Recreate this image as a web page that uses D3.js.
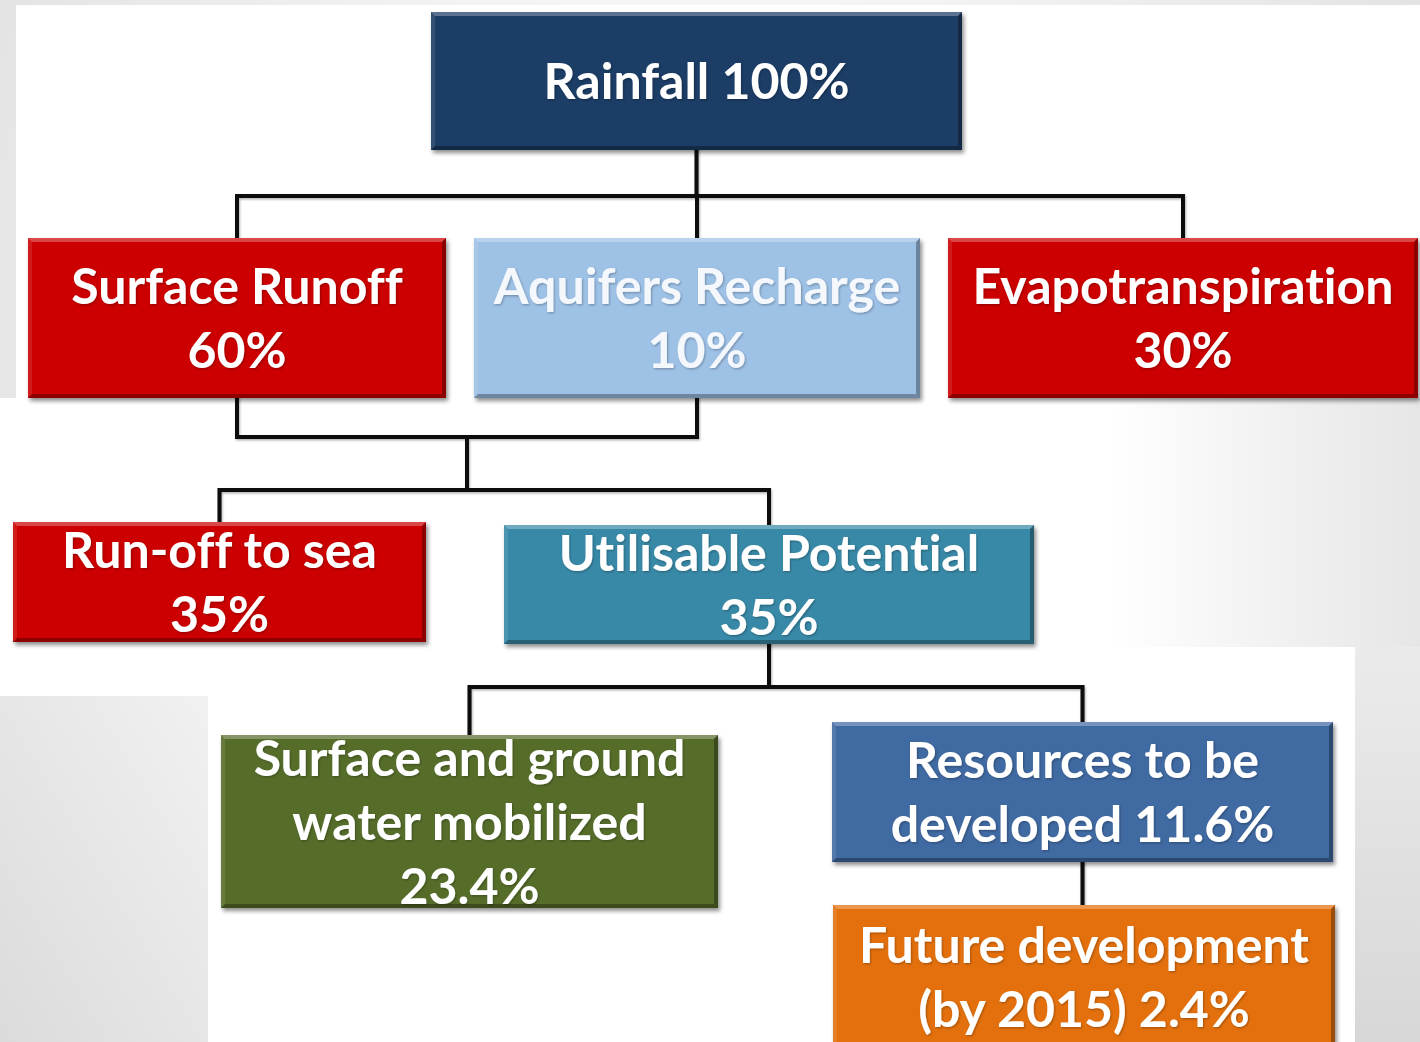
<!DOCTYPE html>
<html>
<head>
<meta charset="utf-8">
<script src="https://cdn.jsdelivr.net/npm/d3@7"></script>
<style>
  html, body { margin: 0; padding: 0; background: #ffffff; }
  svg { display: block; }
  text { font-variant-ligatures: none; font-feature-settings: "liga" 0, "clig" 0; }
</style>
</head>
<body>
<svg id="chart" width="1420" height="1042"></svg>
<script>
// ---- Water balance data: each node's share of total rainfall ----
const nodeIds    = ["rain", "surface", "aquifer", "evap", "sea", "util", "mobil", "resources", "future"];
const nodeShares = [100, 60, 10, 30, 35, 35, 23.4, 11.6, 2.4];
// label templates ("|" = line break, "{v}" = share)
const nodeLabels = [
  "Rainfall {v}%",
  "Surface Runoff|{v}%",
  "Aquifers Recharge|{v}%",
  "Evapotranspiration|{v}%",
  "Run-off to sea|{v}%",
  "Utilisable Potential|{v}%",
  "Surface and ground|water mobilized|{v}%",
  "Resources to be|developed {v}%",
  "Future development|(by 2015) {v}%"
];
// flow links: parents -> children
const flowParents  = [["rain"], ["surface", "aquifer"], ["util"], ["resources"]];
const flowChildren = [["surface", "aquifer", "evap"], ["sea", "util"], ["mobil", "resources"], ["future"]];

// ---- Layout and styles ----
const boxLayout = {
  rain:      { x: 431, y: 12,  w: 531, h: 138 },
  surface:   { x: 28,  y: 238, w: 418, h: 160 },
  aquifer:   { x: 474, y: 238, w: 446, h: 160 },
  evap:      { x: 948, y: 238, w: 470, h: 160 },
  sea:       { x: 13,  y: 522, w: 413, h: 120 },
  util:      { x: 504, y: 525, w: 530, h: 119 },
  mobil:     { x: 221, y: 735, w: 497, h: 173 },
  resources: { x: 832, y: 722, w: 501, h: 140 },
  future:    { x: 833, y: 905, w: 502, h: 143 }
};
const boxFill = {
  rain: "#1f3c66", surface: "#cc0000", aquifer: "#9ec1e6", evap: "#cc0000",
  sea: "#cc0000", util: "#3889a7", mobil: "#576d2c", resources: "#3f6aa2", future: "#e3700f"
};
// junction levels for each flow (merge level for several parents, bus level for children)
const flowLevels = [{ merge: 196, bus: 196 }, { merge: 437, bus: 490 }, { merge: 687, bus: 687 }, { merge: 884, bus: 884 }];

const W = 1420, H = 1042;
const svg = d3.select("#chart");
const defs = svg.append("defs");

// background gradients
const bg = defs.append("radialGradient").attr("id", "bgGrad")
  .attr("gradientUnits", "userSpaceOnUse").attr("cx", 700).attr("cy", 320).attr("r", 1050);
bg.append("stop").attr("offset", 0).attr("stop-color", "#ffffff");
bg.append("stop").attr("offset", 0.35).attr("stop-color", "#f4f4f4");
bg.append("stop").attr("offset", 1).attr("stop-color", "#d8d8d8");

const midGrad = defs.append("linearGradient").attr("id", "midGrad")
  .attr("x1", 0).attr("x2", 1).attr("y1", 0).attr("y2", 0);
midGrad.append("stop").attr("offset", 0).attr("stop-color", "#ffffff");
midGrad.append("stop").attr("offset", 0.78).attr("stop-color", "#ffffff");
midGrad.append("stop").attr("offset", 1).attr("stop-color", "#e6e6e6");

const cornerGrad = defs.append("linearGradient").attr("id", "cornerGrad")
  .attr("x1", 1).attr("y1", 0).attr("x2", 0).attr("y2", 1);
cornerGrad.append("stop").attr("offset", 0).attr("stop-color", "#f1f1f1");
cornerGrad.append("stop").attr("offset", 1).attr("stop-color", "#dbdbdb");

const sideGrad = defs.append("linearGradient").attr("id", "sideGrad")
  .attr("x1", 0).attr("y1", 0).attr("x2", 0).attr("y2", 1);
sideGrad.append("stop").attr("offset", 0).attr("stop-color", "#ebebeb");
sideGrad.append("stop").attr("offset", 1).attr("stop-color", "#d7d7d7");

const shadow = defs.append("filter").attr("id", "boxShadow")
  .attr("x", "-5%").attr("y", "-10%").attr("width", "112%").attr("height", "125%");
shadow.append("feDropShadow").attr("dx", 2).attr("dy", 3).attr("stdDeviation", 2.2)
  .attr("flood-color", "#000").attr("flood-opacity", 0.45);

const txtShadow = defs.append("filter").attr("id", "txtShadow")
  .attr("x", "-5%").attr("y", "-20%").attr("width", "110%").attr("height", "150%");
txtShadow.append("feDropShadow").attr("dx", 1).attr("dy", 1.2).attr("stdDeviation", 1)
  .attr("flood-color", "#000").attr("flood-opacity", 0.28);

const lineShadow = defs.append("filter").attr("id", "lineShadow")
  .attr("x", "-5%").attr("y", "-5%").attr("width", "110%").attr("height", "120%");
lineShadow.append("feDropShadow").attr("dx", 1).attr("dy", 1.5).attr("stdDeviation", 1)
  .attr("flood-color", "#000").attr("flood-opacity", 0.3);

// slide background with pasted white panels
svg.append("rect").attr("width", W).attr("height", H).attr("fill", "url(#bgGrad)");
svg.append("rect").attr("x", 0).attr("y", 696).attr("width", 208).attr("height", H - 696).attr("fill", "url(#cornerGrad)");
svg.append("rect").attr("x", 1355).attr("y", 647).attr("width", W - 1355).attr("height", H - 647).attr("fill", "url(#sideGrad)");
svg.append("rect").attr("x", 16).attr("y", 5).attr("width", W - 16).attr("height", 393).attr("fill", "#ffffff");
svg.append("rect").attr("x", 0).attr("y", 398).attr("width", W).attr("height", 249).attr("fill", "url(#midGrad)");
svg.append("rect").attr("x", 0).attr("y", 647).attr("width", 208).attr("height", 49).attr("fill", "#ffffff");
svg.append("rect").attr("x", 208).attr("y", 647).attr("width", 1147).attr("height", H - 647).attr("fill", "#ffffff");

// ---- Connectors ----
const boxCx = id => boxLayout[id].x + boxLayout[id].w / 2;
const boxTop = id => boxLayout[id].y;
const boxBottom = id => boxLayout[id].y + boxLayout[id].h;

const connG = svg.append("g").attr("filter", "url(#lineShadow)")
  .attr("fill", "none").attr("stroke", "#0d0d0d").attr("stroke-width", 4)
  .attr("stroke-linejoin", "miter").attr("stroke-linecap", "square");

flowParents.forEach((parents, k) => {
  const kids = flowChildren[k];
  const lv = flowLevels[k];
  const p = d3.path();
  let jx = boxCx(parents[0]);
  if (parents.length > 1) {
    const xs = parents.map(boxCx);
    parents.forEach(id => { p.moveTo(boxCx(id), boxBottom(id)); p.lineTo(boxCx(id), lv.merge); });
    p.moveTo(d3.min(xs), lv.merge); p.lineTo(d3.max(xs), lv.merge);
    jx = (d3.min(xs) + d3.max(xs)) / 2;
    p.moveTo(jx, lv.merge); p.lineTo(jx, lv.bus);
  } else {
    p.moveTo(jx, boxBottom(parents[0])); p.lineTo(jx, lv.bus);
  }
  if (kids.length > 1) {
    const kx = kids.map(boxCx);
    p.moveTo(Math.min(d3.min(kx), jx), lv.bus); p.lineTo(Math.max(d3.max(kx), jx), lv.bus);
    kids.forEach(id => { p.moveTo(boxCx(id), lv.bus); p.lineTo(boxCx(id), boxTop(id)); });
  } else {
    p.moveTo(jx, lv.bus); p.lineTo(jx, boxTop(kids[0]));
  }
  connG.append("path").attr("d", p.toString());
});

// ---- Boxes ----
const fontFamily = "Lato, 'Open Sans', 'DejaVu Sans', sans-serif";

// size the type so line widths follow the slide's Calibri lettering
const probeLines = ["Evapotranspiration", "Surface Runoff", "Utilisable Potential", "Future development", "Surface and ground"];
const probeWidths = [419, 329, 421, 454, 432];
const probe = svg.append("text").attr("font-family", fontFamily).attr("font-weight", 700).attr("font-size", 100);
let measured = 0;
probeLines.forEach(s => { probe.text(s); measured += probe.node().getComputedTextLength(); });
probe.remove();
const fontSize = 100 * d3.sum(probeWidths) / measured;
const lineGap = 64;
const capH = fontSize * 0.72;

const fmt = v => (Number.isInteger(v) ? d3.format("d")(v) : d3.format(".1f")(v));
const nodes = nodeIds.map((id, i) => ({
  id, share: nodeShares[i],
  lines: nodeLabels[i].replace("{v}", fmt(nodeShares[i])).split("|"),
  ...boxLayout[id], fill: boxFill[id]
}));

const bev = 4;
const g = svg.append("g").selectAll("g.node").data(nodes).join("g").attr("class", "node");

g.append("rect").attr("x", d => d.x).attr("y", d => d.y).attr("width", d => d.w).attr("height", d => d.h)
  .attr("fill", d => d.fill).attr("filter", "url(#boxShadow)");

// bevelled edges
const poly = pts => pts.map(p => p.join(",")).join(" ");
g.append("polygon").attr("fill", "#ffffff").attr("fill-opacity", 0.28)
  .attr("points", d => poly([[d.x, d.y], [d.x + d.w, d.y], [d.x + d.w - bev, d.y + bev], [d.x + bev, d.y + bev]]));
g.append("polygon").attr("fill", "#ffffff").attr("fill-opacity", 0.1)
  .attr("points", d => poly([[d.x, d.y], [d.x + bev, d.y + bev], [d.x + bev, d.y + d.h - bev], [d.x, d.y + d.h]]));
g.append("polygon").attr("fill", "#000000").attr("fill-opacity", 0.3)
  .attr("points", d => poly([[d.x, d.y + d.h], [d.x + bev, d.y + d.h - bev], [d.x + d.w - bev, d.y + d.h - bev], [d.x + d.w, d.y + d.h]]));
g.append("polygon").attr("fill", "#000000").attr("fill-opacity", 0.32)
  .attr("points", d => poly([[d.x + d.w, d.y], [d.x + d.w, d.y + d.h], [d.x + d.w - bev, d.y + d.h - bev], [d.x + d.w - bev, d.y + bev]]));

// labels
g.each(function (d) {
  const n = d.lines.length;
  const cy = d.y + d.h / 2;
  const firstBase = cy - (n - 1) * lineGap / 2 + capH / 2;
  const t = d3.select(this).append("text")
    .attr("font-family", fontFamily).attr("font-weight", 700).attr("font-size", fontSize)
    .attr("fill", d.id === "aquifer" ? "#f4f8fc" : "#ffffff")
    .attr("text-anchor", "middle").attr("filter", "url(#txtShadow)");
  d.lines.forEach((s, i) => {
    t.append("tspan").attr("x", d.x + d.w / 2).attr("y", firstBase + i * lineGap).text(s);
  });
});
</script>
</body>
</html>
